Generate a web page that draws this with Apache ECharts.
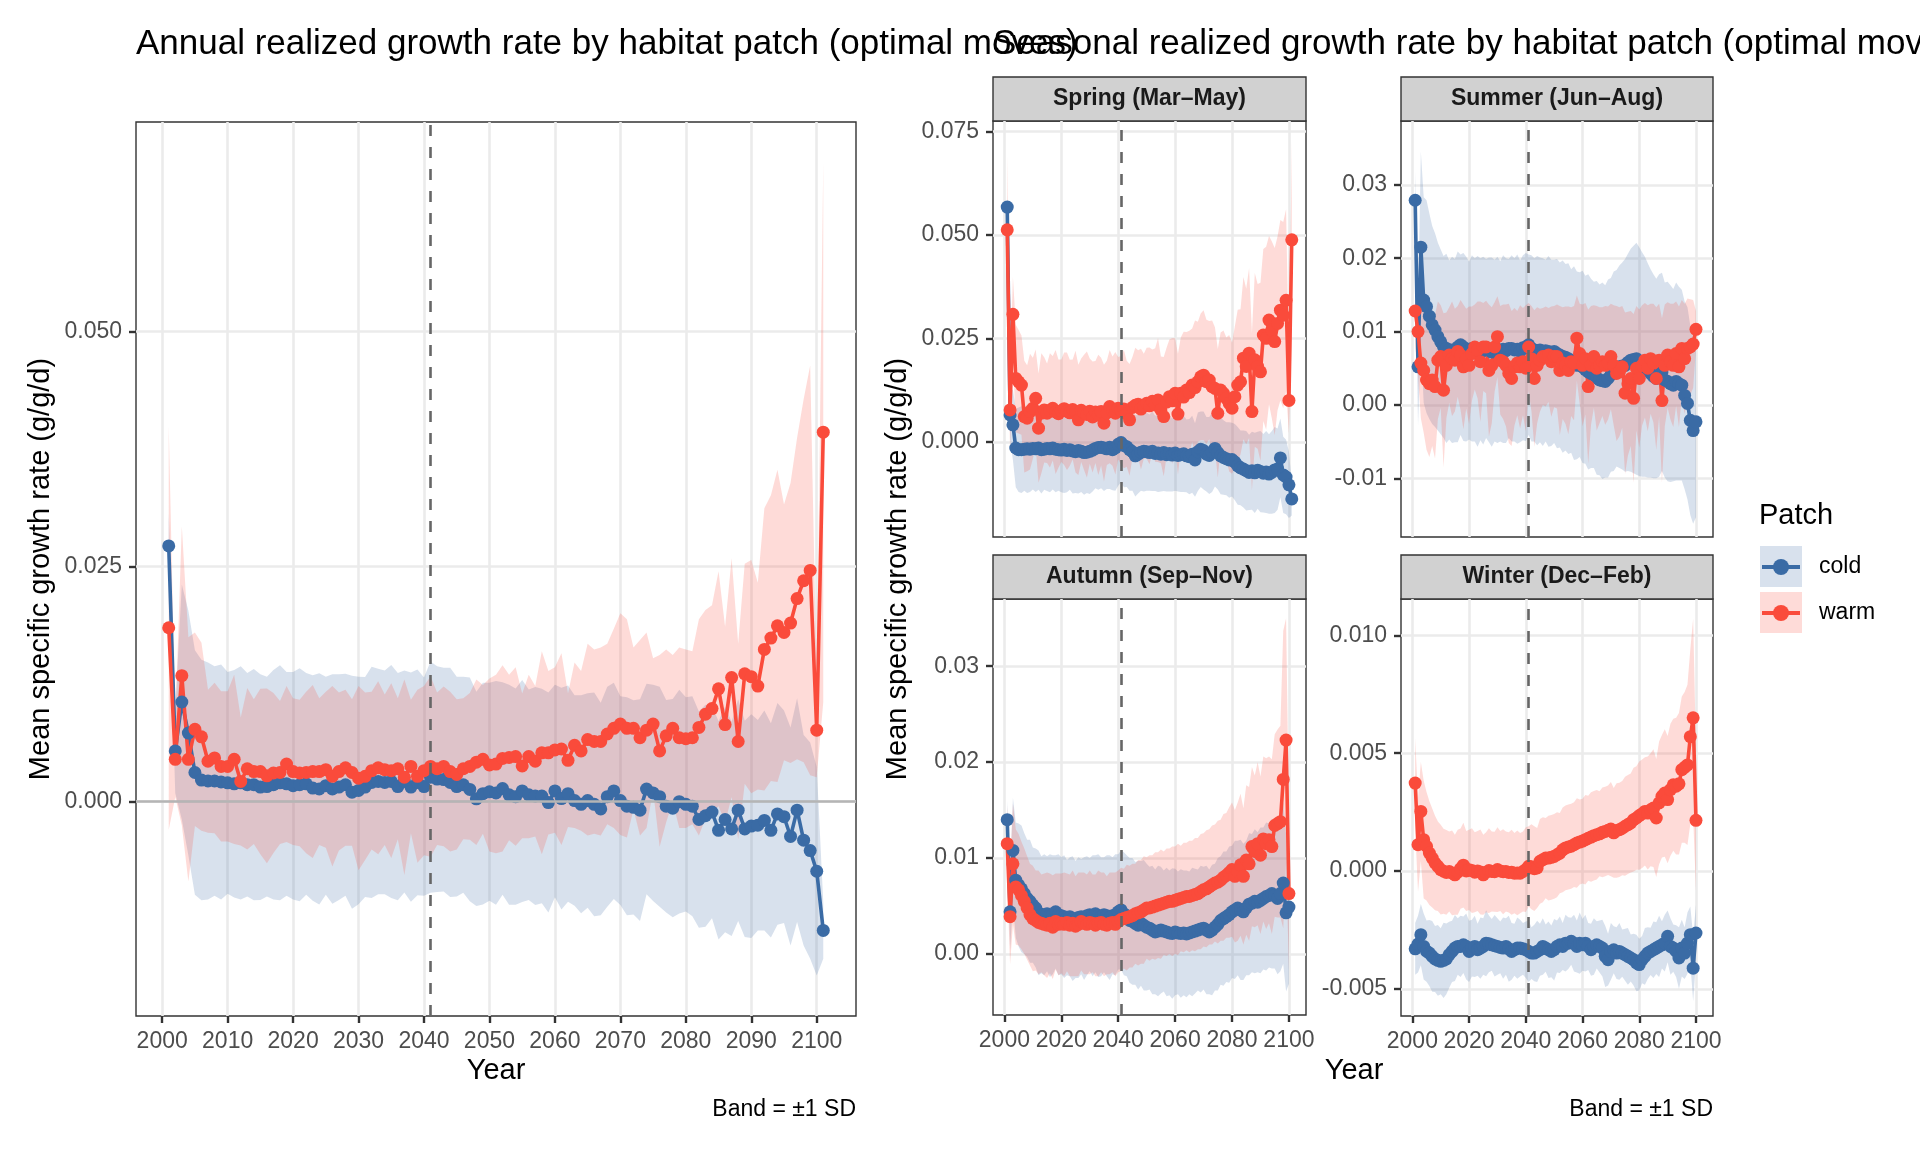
<!DOCTYPE html>
<html>
<head>
<meta charset="utf-8">
<title>Realized growth rate by habitat patch</title>
<script src="https://cdn.jsdelivr.net/npm/echarts@6/dist/echarts.min.js"></script>
<style>
html, body { margin: 0; padding: 0; background: #ffffff; }
#chart { width: 1920px; height: 1152px; }
</style>
</head>
<body>
<div id="chart"></div>
<script>
// ---- data (g/g/d) ----
var annualFirstYear = 2001, annualLastYear = 2101;
var springLastYear = 2101, seasonLastYear = 2100;
var scenarioYear = 2041;   // dashed reference line

var annualXTicks = [2000, 2010, 2020, 2030, 2040, 2050, 2060, 2070, 2080, 2090, 2100];
var seasonXTicks = [2000, 2020, 2040, 2060, 2080, 2100];
var annualYTicks = [0, 0.025, 0.05];
var springYTicks = [0, 0.025, 0.05, 0.075];
var summerYTicks = [-0.01, 0, 0.01, 0.02, 0.03];
var autumnYTicks = [0, 0.01, 0.02, 0.03];
var winterYTicks = [-0.005, 0, 0.005, 0.01];

var annualCold = [0.0272, 0.0054, 0.0106, 0.0073, 0.0031, 0.0023, 0.0022, 0.0022, 0.0021, 0.0020,
 0.0019, 0.0020, 0.0018, 0.0018, 0.00155, 0.0016, 0.0018, 0.0020, 0.0019, 0.0017,
 0.0018, 0.0019, 0.00145, 0.00135, 0.0017, 0.00135, 0.00155, 0.0018, 0.0010, 0.0012,
 0.00155, 0.00205, 0.00215, 0.00205, 0.00215, 0.0016, 0.00215, 0.00155, 0.00205, 0.0016,
 0.0026, 0.0024, 0.00235, 0.00205, 0.0016, 0.0018, 0.0013, 0.0003, 0.00085, 0.00105,
 0.00093, 0.0014, 0.00073, 0.00053, 0.00114, 0.00073, 0.0006, 0.0006, -0.0001, 0.00114,
 0.00033, 0.00085, 0.00012, -0.00028, 0.00012, -0.00028, -0.00077, 0.00053, 0.00114, 0.00012,
 -0.00049, -0.0006, -0.0009, 0.00134, 0.00093, 0.00053, -0.00049, -0.00069, 0.0, -0.00028,
 -0.00049, -0.0019, -0.0015, -0.0011, -0.00305, -0.0019, -0.0029, -0.0009, -0.0029, -0.0026,
 -0.0025, -0.0020, -0.00305, -0.0013, -0.0016, -0.0037, -0.0009, -0.0041, -0.0052, -0.0074,
 -0.0137];
var annualColdSd = [0.0035, 0.0045, 0.0125, 0.0130, 0.0130, 0.0128, 0.0126, 0.0122, 0.0125, 0.0118,
 0.0121, 0.0124, 0.0119, 0.0123, 0.0120, 0.0117, 0.0122, 0.0125, 0.0119, 0.0121,
 0.0124, 0.0118, 0.0120, 0.0123, 0.0116, 0.0122, 0.0120, 0.0118, 0.0124, 0.0121,
 0.0117, 0.0123, 0.0120, 0.0119, 0.0124, 0.0121, 0.0118, 0.0122, 0.0120, 0.0116,
 0.0123, 0.0120, 0.0119, 0.0122, 0.0117, 0.0115, 0.0119, 0.0114, 0.0118, 0.0116,
 0.0119, 0.0113, 0.0117, 0.0115, 0.0118, 0.0112, 0.0116, 0.0114, 0.0117, 0.0113,
 0.0118, 0.0115, 0.0112, 0.0116, 0.0114, 0.0119, 0.0113, 0.0117, 0.0115, 0.0111,
 0.0116, 0.0114, 0.0118, 0.0112, 0.0115, 0.0117, 0.0113, 0.0116, 0.0119, 0.0114,
 0.0117, 0.0115, 0.0118, 0.0113, 0.0116, 0.0120, 0.0114, 0.0118, 0.0115, 0.0119,
 0.0112, 0.0117, 0.0114, 0.0118, 0.0113, 0.0116, 0.0119, 0.0112, 0.0115, 0.0111,
 0.0030];
var annualWarm = [0.0185, 0.0045, 0.0134, 0.0045, 0.0077, 0.0069, 0.0043, 0.00465, 0.00375, 0.00375,
 0.0045, 0.00215, 0.0035, 0.0032, 0.0032, 0.00275, 0.00305, 0.0031, 0.0040, 0.0032,
 0.00305, 0.0031, 0.0032, 0.0032, 0.0034, 0.0027, 0.0032, 0.0036, 0.0031, 0.0025,
 0.0027, 0.0033, 0.0036, 0.0034, 0.0033, 0.0035, 0.0026, 0.00375, 0.0027, 0.0033,
 0.00375, 0.0035, 0.00375, 0.0032, 0.0029, 0.0035, 0.00375, 0.0042, 0.0045, 0.0039,
 0.0040, 0.0046, 0.0047, 0.0048, 0.0038, 0.0048, 0.0043, 0.0052, 0.0052, 0.0055,
 0.0056, 0.0044, 0.0060, 0.0054, 0.0066, 0.0064, 0.0064, 0.0072, 0.0078, 0.00825,
 0.0078, 0.0078, 0.0068, 0.0076, 0.00825, 0.0054, 0.0070, 0.0078, 0.0068, 0.0067,
 0.0068, 0.0079, 0.0093, 0.0099, 0.0120, 0.0082, 0.0132, 0.0064, 0.0136, 0.0133,
 0.0123, 0.0162, 0.0174, 0.0187, 0.0180, 0.0190, 0.0216, 0.0235, 0.0246, 0.0076,
 0.0393];
var annualWarmSd = [0.0215, 0.0040, 0.0159, 0.0130, 0.0103, 0.0100, 0.0076, 0.0080, 0.0080, 0.0080,
 0.0090, 0.0068, 0.0086, 0.0077, 0.0088, 0.0093, 0.0085, 0.0076, 0.0083, 0.0078,
 0.0078, 0.0086, 0.0092, 0.0078, 0.0083, 0.0096, 0.0084, 0.0083, 0.0078, 0.0098,
 0.0089, 0.0084, 0.0092, 0.0080, 0.0093, 0.0075, 0.0104, 0.0071, 0.0092, 0.0090,
 0.0096, 0.0081, 0.0085, 0.0085, 0.0080, 0.0075, 0.0078, 0.0088, 0.0079, 0.0092,
 0.0095, 0.0099, 0.0088, 0.0095, 0.0077, 0.0087, 0.0080, 0.0108, 0.0087, 0.0088,
 0.0102, 0.0071, 0.0088, 0.0085, 0.0102, 0.0098, 0.0100, 0.0096, 0.0106, 0.0118,
 0.0116, 0.0086, 0.0104, 0.0104, 0.0070, 0.0102, 0.0092, 0.0078, 0.0096, 0.0095,
 0.0092, 0.0115, 0.0111, 0.0110, 0.0125, 0.0104, 0.0127, 0.0104, 0.0117, 0.0124,
 0.0110, 0.0150, 0.0152, 0.0166, 0.0136, 0.0149, 0.0171, 0.0193, 0.0218, 0.0050,
 0.0287];

var springCold = [0.0567, 0.0065, 0.0041, -0.0015, -0.0019, -0.0019, -0.0018, -0.0017, -0.0018, -0.0016,
 -0.0017, -0.0015, -0.0019, -0.0018, -0.0016, -0.0017, -0.0015, -0.0018, -0.0019, -0.0020,
 -0.0018, -0.0021, -0.0019, -0.0022, -0.0024, -0.0021, -0.0023, -0.0026, -0.0025, -0.0023,
 -0.0020, -0.0016, -0.0014, -0.0013, -0.0015, -0.0017, -0.0013, -0.0019, -0.0015, -0.0006,
 -0.0002, -0.0009, -0.0012, -0.0019, -0.0024, -0.0034, -0.0030, -0.0025, -0.0023, -0.0024,
 -0.0026, -0.0023, -0.0028, -0.0027, -0.0030, -0.0026, -0.0031, -0.0028, -0.0032, -0.0027,
 -0.0033, -0.0031, -0.0029, -0.0034, -0.0036, -0.0030, -0.0044, -0.0024, -0.0018, -0.0021,
 -0.0030, -0.0033, -0.0025, -0.0016, -0.0026, -0.0034, -0.0038, -0.0041, -0.0044, -0.0043,
 -0.0049, -0.0058, -0.0063, -0.0066, -0.0070, -0.0074, -0.0070, -0.0075, -0.0069, -0.0072,
 -0.0076, -0.0073, -0.0078, -0.0074, -0.0068, -0.0066, -0.0039, -0.0080, -0.0085, -0.0104,
 -0.0138];
var springColdSd = [0.0030, 0.0060, 0.0085, 0.0095, 0.0102, 0.0105, 0.0100, 0.0107, 0.0103, 0.0099,
 0.0104, 0.0101, 0.0106, 0.0098, 0.0103, 0.0105, 0.0100, 0.0104, 0.0099, 0.0102,
 0.0106, 0.0101, 0.0097, 0.0103, 0.0100, 0.0104, 0.0098, 0.0102, 0.0099, 0.0103,
 0.0100, 0.0096, 0.0102, 0.0099, 0.0104, 0.0097, 0.0101, 0.0098, 0.0103, 0.0100,
 0.0096, 0.0101, 0.0097, 0.0099, 0.0094, 0.0098, 0.0095, 0.0093, 0.0097, 0.0094,
 0.0092, 0.0096, 0.0091, 0.0094, 0.0090, 0.0093, 0.0089, 0.0092, 0.0088, 0.0091,
 0.0087, 0.0090, 0.0092, 0.0088, 0.0091, 0.0093, 0.0089, 0.0095, 0.0091, 0.0094,
 0.0090, 0.0093, 0.0096, 0.0092, 0.0089, 0.0093, 0.0090, 0.0088, 0.0091, 0.0089,
 0.0092, 0.0094, 0.0090, 0.0093, 0.0096, 0.0091, 0.0094, 0.0097, 0.0093, 0.0098,
 0.0095, 0.0099, 0.0096, 0.0100, 0.0104, 0.0098, 0.0095, 0.0092, 0.0090, 0.0080,
 0.0040];
var springWarm = [0.0512, 0.0077, 0.0308, 0.0153, 0.0145, 0.0137, 0.0061, 0.0057, 0.0073, 0.0081,
 0.0105, 0.0033, 0.0069, 0.0077, 0.0069, 0.0076, 0.0081, 0.0072, 0.0068, 0.0075,
 0.0080, 0.0074, 0.0070, 0.0078, 0.0073, 0.0053, 0.0076, 0.0071, 0.0066, 0.0074,
 0.0060, 0.0072, 0.0065, 0.0073, 0.0045, 0.0070, 0.0085, 0.0074, 0.0069, 0.0081,
 0.0076, 0.0079, 0.0068, 0.0053, 0.0083, 0.0088, 0.0091, 0.0079, 0.0086, 0.0093,
 0.0087, 0.0098, 0.0089, 0.0101, 0.0077, 0.0061, 0.0096, 0.0109, 0.0099, 0.0117,
 0.0067, 0.0117, 0.0108, 0.0125, 0.0119, 0.0137, 0.0131, 0.0145, 0.0157, 0.0161,
 0.0145, 0.0149, 0.0133, 0.0129, 0.0069, 0.0125, 0.0117, 0.0105, 0.0093, 0.0081,
 0.0109, 0.0137, 0.0145, 0.0202, 0.0182, 0.0214, 0.0073, 0.0198, 0.0182, 0.0169,
 0.0258, 0.0250, 0.0294, 0.0270, 0.0242, 0.0286, 0.0318, 0.0306, 0.0342, 0.0100,
 0.0488];
var springWarmSd = [0.0180, 0.0100, 0.0090, 0.0130, 0.0125, 0.0120, 0.0135, 0.0128, 0.0140, 0.0122,
 0.0118, 0.0132, 0.0145, 0.0127, 0.0120, 0.0138, 0.0126, 0.0150, 0.0131, 0.0124,
 0.0136, 0.0142, 0.0128, 0.0121, 0.0147, 0.0133, 0.0125, 0.0139, 0.0152, 0.0127,
 0.0134, 0.0123, 0.0145, 0.0130, 0.0141, 0.0126, 0.0137, 0.0132, 0.0148, 0.0124,
 0.0131, 0.0143, 0.0128, 0.0135, 0.0122, 0.0139, 0.0130, 0.0146, 0.0127, 0.0134,
 0.0141, 0.0125, 0.0137, 0.0150, 0.0129, 0.0144, 0.0131, 0.0138, 0.0152, 0.0133,
 0.0146, 0.0135, 0.0158, 0.0140, 0.0149, 0.0137, 0.0162, 0.0145, 0.0153, 0.0157,
 0.0150, 0.0143, 0.0160, 0.0148, 0.0155, 0.0139, 0.0152, 0.0147, 0.0165, 0.0158,
 0.0170, 0.0182, 0.0175, 0.0196, 0.0188, 0.0205, 0.0190, 0.0210, 0.0199, 0.0215,
 0.0208, 0.0221, 0.0203, 0.0214, 0.0226, 0.0210, 0.0218, 0.0225, 0.0220, 0.0080,
 0.0240];

var summerCold = [0.0279, 0.0052, 0.0215, 0.0143, 0.0134, 0.0121, 0.0109, 0.0102, 0.0093, 0.0086,
 0.0079, 0.0077, 0.0075, 0.0075, 0.0074, 0.0079, 0.0082, 0.0079, 0.0076, 0.0074,
 0.0077, 0.0075, 0.0073, 0.0076, 0.0074, 0.0077, 0.0075, 0.0072, 0.0074, 0.0075,
 0.0073, 0.0076, 0.0074, 0.0077, 0.0077, 0.0075, 0.0076, 0.0073, 0.0078, 0.0079,
 0.0082, 0.0077, 0.0075, 0.0074, 0.0075, 0.0072, 0.0074, 0.0073, 0.0071, 0.0073,
 0.0070, 0.0068, 0.0066, 0.0065, 0.0063, 0.0060, 0.0057, 0.0054, 0.0055, 0.0052,
 0.0048, 0.0045, 0.0043, 0.0041, 0.0037, 0.0034, 0.0033, 0.0032, 0.0036, 0.0041,
 0.0046, 0.0050, 0.0052, 0.0053, 0.0054, 0.0058, 0.0061, 0.0062, 0.0063, 0.0059,
 0.0055, 0.0052, 0.0047, 0.0043, 0.0039, 0.0036, 0.0040, 0.0045, 0.0034, 0.0032,
 0.0029, 0.0027, 0.0032, 0.0029, 0.0027, 0.0013, 0.0002, -0.0021, -0.0035, -0.0023];
var summerColdSd = [0.0040, 0.0080, 0.0130, 0.0140, 0.0145, 0.0140, 0.0135, 0.0132, 0.0128, 0.0126,
 0.0124, 0.0129, 0.0122, 0.0127, 0.0125, 0.0130, 0.0123, 0.0128, 0.0126, 0.0121,
 0.0127, 0.0125, 0.0130, 0.0124, 0.0128, 0.0122, 0.0126, 0.0129, 0.0124, 0.0127,
 0.0123, 0.0128, 0.0126, 0.0122, 0.0127, 0.0125, 0.0129, 0.0124, 0.0126, 0.0128,
 0.0123, 0.0127, 0.0125, 0.0129, 0.0126, 0.0128, 0.0124, 0.0130, 0.0127, 0.0125,
 0.0129, 0.0126, 0.0131, 0.0127, 0.0130, 0.0125, 0.0132, 0.0128, 0.0126, 0.0131,
 0.0128, 0.0133, 0.0129, 0.0127, 0.0132, 0.0130, 0.0134, 0.0131, 0.0135, 0.0132,
 0.0136, 0.0134, 0.0138, 0.0141, 0.0145, 0.0148, 0.0152, 0.0155, 0.0158, 0.0156,
 0.0153, 0.0150, 0.0146, 0.0142, 0.0139, 0.0136, 0.0138, 0.0135, 0.0133, 0.0136,
 0.0134, 0.0131, 0.0135, 0.0132, 0.0130, 0.0128, 0.0131, 0.0129, 0.0127, 0.0130];
var summerWarm = [0.0128, 0.0100, 0.0057, 0.0047, 0.0034, 0.0029, 0.0034, 0.0025, 0.0061, 0.0066,
 0.0020, 0.0054, 0.0068, 0.0063, 0.0061, 0.0073, 0.0068, 0.0052, 0.0063, 0.0054,
 0.0070, 0.0079, 0.0075, 0.0059, 0.0079, 0.0079, 0.0047, 0.0054, 0.0079, 0.0093,
 0.0061, 0.0059, 0.0054, 0.0043, 0.0036, 0.0052, 0.0057, 0.0052, 0.0059, 0.0050,
 0.0079, 0.0063, 0.0036, 0.0054, 0.0061, 0.0066, 0.0066, 0.0068, 0.0059, 0.0066,
 0.0066, 0.0047, 0.0057, 0.0054, 0.0047, 0.0059, 0.0057, 0.0091, 0.0070, 0.0054,
 0.0063, 0.0025, 0.0054, 0.0066, 0.0050, 0.0054, 0.0059, 0.0054, 0.0057, 0.0066,
 0.0054, 0.0043, 0.0045, 0.0052, 0.0016, 0.0029, 0.0036, 0.0009, 0.0050, 0.0036,
 0.0054, 0.0061, 0.0050, 0.0063, 0.0057, 0.0036, 0.0061, 0.0006, 0.0054, 0.0068,
 0.0059, 0.0054, 0.0070, 0.0052, 0.0077, 0.0063, 0.0077, 0.0079, 0.0083, 0.0103];
var summerWarmSd = [0.0050, 0.0060, 0.0075, 0.0085, 0.0095, 0.0100, 0.0090, 0.0098, 0.0080, 0.0070,
 0.0105, 0.0072, 0.0065, 0.0078, 0.0070, 0.0062, 0.0075, 0.0085, 0.0068, 0.0080,
 0.0064, 0.0058, 0.0066, 0.0082, 0.0060, 0.0063, 0.0090, 0.0079, 0.0061, 0.0055,
 0.0074, 0.0078, 0.0083, 0.0095, 0.0092, 0.0080, 0.0071, 0.0084, 0.0073, 0.0086,
 0.0060, 0.0072, 0.0093, 0.0079, 0.0070, 0.0066, 0.0068, 0.0064, 0.0075, 0.0069,
 0.0071, 0.0088, 0.0076, 0.0080, 0.0087, 0.0074, 0.0078, 0.0058, 0.0068, 0.0083,
 0.0076, 0.0105, 0.0081, 0.0070, 0.0085, 0.0079, 0.0074, 0.0081, 0.0077, 0.0072,
 0.0082, 0.0092, 0.0088, 0.0083, 0.0110, 0.0098, 0.0092, 0.0115, 0.0085, 0.0094,
 0.0082, 0.0078, 0.0086, 0.0075, 0.0081, 0.0097, 0.0077, 0.0112, 0.0083, 0.0072,
 0.0079, 0.0084, 0.0071, 0.0082, 0.0066, 0.0075, 0.0068, 0.0065, 0.0060, 0.0025];

var autumnCold = [0.0140, 0.0044, 0.0108, 0.0077, 0.0072, 0.0068, 0.0063, 0.0058, 0.0055, 0.0051,
 0.0048, 0.0043, 0.0041, 0.0041, 0.0042, 0.0040, 0.0041, 0.0044, 0.0041, 0.0040,
 0.0039, 0.0038, 0.0039, 0.0037, 0.0036, 0.0038, 0.0039, 0.0037, 0.0040, 0.0041,
 0.0040, 0.0042, 0.0040, 0.0039, 0.0041, 0.0040, 0.0038, 0.0040, 0.0041, 0.0044,
 0.0046, 0.0042, 0.0040, 0.0035, 0.0034, 0.0032, 0.0030, 0.0032, 0.0030, 0.0028,
 0.0027, 0.0025, 0.0023, 0.0024, 0.0025, 0.0024, 0.0023, 0.0022, 0.00215, 0.0023,
 0.0022, 0.00215, 0.0022, 0.0021, 0.0022, 0.0023, 0.0024, 0.0025, 0.0026, 0.0027,
 0.0025, 0.0023, 0.0025, 0.0028, 0.0031, 0.0035, 0.0037, 0.0039, 0.0041, 0.0044,
 0.0046, 0.0048, 0.0046, 0.0044, 0.0048, 0.0052, 0.0053, 0.0055, 0.0054, 0.0056,
 0.0058, 0.0060, 0.0061, 0.0063, 0.0061, 0.0058, 0.0063, 0.0074, 0.0043, 0.0049];
var autumnColdSd = [0.0020, 0.0040, 0.0055, 0.0060, 0.0064, 0.0066, 0.0063, 0.0061, 0.0064, 0.0060,
 0.0062, 0.0065, 0.0061, 0.0063, 0.0060, 0.0064, 0.0062, 0.0059, 0.0063, 0.0061,
 0.0064, 0.0060, 0.0062, 0.0065, 0.0061, 0.0063, 0.0060, 0.0064, 0.0062, 0.0059,
 0.0063, 0.0061, 0.0064, 0.0062, 0.0060, 0.0063, 0.0065, 0.0061, 0.0063, 0.0060,
 0.0062, 0.0064, 0.0063, 0.0065, 0.0066, 0.0064, 0.0067, 0.0065, 0.0068, 0.0066,
 0.0064, 0.0067, 0.0065, 0.0068, 0.0066, 0.0063, 0.0067, 0.0065, 0.0068, 0.0066,
 0.0064, 0.0067, 0.0065, 0.0066, 0.0064, 0.0067, 0.0065, 0.0063, 0.0066, 0.0064,
 0.0067, 0.0065, 0.0068, 0.0066, 0.0069, 0.0067, 0.0070, 0.0068, 0.0071, 0.0069,
 0.0072, 0.0070, 0.0073, 0.0071, 0.0070, 0.0074, 0.0072, 0.0075, 0.0073, 0.0076,
 0.0074, 0.0077, 0.0075, 0.0078, 0.0076, 0.0079, 0.0081, 0.0084, 0.0082, 0.0080];
var autumnWarm = [0.0115, 0.0039, 0.0094, 0.0070, 0.0067, 0.0061, 0.0055, 0.0048, 0.0041, 0.0037,
 0.0035, 0.0033, 0.0032, 0.0031, 0.0030, 0.0032, 0.0028, 0.0034, 0.0031, 0.0032,
 0.0031, 0.0033, 0.0030, 0.0032, 0.0029, 0.0031, 0.0034, 0.0032, 0.0031, 0.0033,
 0.0032, 0.0030, 0.0032, 0.0033, 0.0031, 0.0030, 0.0032, 0.0033, 0.0031, 0.0034,
 0.0036, 0.0037, 0.0038, 0.0039, 0.0040, 0.0042, 0.0043, 0.0044, 0.0046, 0.0048,
 0.0048, 0.0049, 0.0050, 0.0051, 0.0052, 0.0053, 0.0054, 0.0055, 0.0055, 0.0056,
 0.0057, 0.0058, 0.0059, 0.0060, 0.0060, 0.0061, 0.0062, 0.0063, 0.0065, 0.0067,
 0.0068, 0.0070, 0.0072, 0.0074, 0.0075, 0.0077, 0.0080, 0.0082, 0.0085, 0.0088,
 0.0081, 0.0086, 0.0093, 0.0081, 0.0098, 0.0094, 0.0112, 0.0107, 0.0115, 0.0103,
 0.0120, 0.0115, 0.0119, 0.0112, 0.0134, 0.0136, 0.0138, 0.0182, 0.0223, 0.0063];
var autumnWarmSd = [0.0040, 0.0050, 0.0063, 0.0060, 0.0058, 0.0056, 0.0055, 0.0054, 0.0053, 0.0055,
 0.0052, 0.0054, 0.0051, 0.0053, 0.0055, 0.0052, 0.0054, 0.0050, 0.0053, 0.0052,
 0.0054, 0.0051, 0.0053, 0.0055, 0.0052, 0.0054, 0.0051, 0.0053, 0.0052, 0.0054,
 0.0051, 0.0053, 0.0055, 0.0052, 0.0054, 0.0051, 0.0053, 0.0052, 0.0054, 0.0053,
 0.0054, 0.0052, 0.0055, 0.0053, 0.0054, 0.0052, 0.0055, 0.0054, 0.0056, 0.0053,
 0.0055, 0.0054, 0.0056, 0.0055, 0.0057, 0.0054, 0.0056, 0.0055, 0.0057, 0.0056,
 0.0058, 0.0055, 0.0057, 0.0056, 0.0058, 0.0057, 0.0059, 0.0058, 0.0060, 0.0059,
 0.0061, 0.0060, 0.0062, 0.0061, 0.0064, 0.0063, 0.0066, 0.0065, 0.0068, 0.0070,
 0.0069, 0.0072, 0.0074, 0.0071, 0.0078, 0.0080, 0.0083, 0.0079, 0.0085, 0.0082,
 0.0086, 0.0089, 0.0087, 0.0091, 0.0095, 0.0098, 0.0100, 0.0155, 0.0127, 0.0080];

var winterCold = [-0.00330, -0.00310, -0.00270, -0.00320, -0.00340, -0.00348, -0.00362, -0.00373, -0.00379, -0.00383,
 -0.00379, -0.00373, -0.00355, -0.00341, -0.00327, -0.00320, -0.00320, -0.00313, -0.00320, -0.00341,
 -0.00327, -0.00320, -0.00334, -0.00327, -0.00320, -0.00306, -0.00309, -0.00313, -0.00317, -0.00320,
 -0.00324, -0.00327, -0.00320, -0.00330, -0.00341, -0.00334, -0.00327, -0.00327, -0.00330, -0.00334,
 -0.00341, -0.00348, -0.00348, -0.00341, -0.00334, -0.00320, -0.00327, -0.00334, -0.00341, -0.00334,
 -0.00320, -0.00313, -0.00320, -0.00306, -0.00306, -0.00298, -0.00306, -0.00320, -0.00306, -0.00313,
 -0.00306, -0.00320, -0.00334, -0.00320, -0.00313, -0.00320, -0.00327, -0.00362, -0.00376, -0.00341,
 -0.00334, -0.00348, -0.00341, -0.00348, -0.00355, -0.00362, -0.00369, -0.00376, -0.00390, -0.00397,
 -0.00376, -0.00362, -0.00348, -0.00341, -0.00334, -0.00327, -0.00320, -0.00313, -0.00306, -0.00277,
 -0.00320, -0.00327, -0.00340, -0.00369, -0.00327, -0.00348, -0.00306, -0.00270, -0.00412, -0.00263];
var winterColdSd = [0.0011, 0.0012, 0.0013, 0.0014, 0.0013, 0.0014, 0.0015, 0.0014, 0.0015, 0.0014,
 0.0016, 0.0015, 0.0014, 0.0013, 0.0014, 0.0012, 0.0013, 0.0012, 0.0014, 0.0013,
 0.0012, 0.0013, 0.0011, 0.0013, 0.0012, 0.0014, 0.0012, 0.0011, 0.0013, 0.0012,
 0.0011, 0.0013, 0.0012, 0.0014, 0.0012, 0.0011, 0.0013, 0.0012, 0.0011, 0.0012,
 0.0013, 0.0011, 0.0012, 0.0013, 0.0011, 0.0012, 0.0010, 0.0012, 0.0011, 0.0013,
 0.0011, 0.0012, 0.0010, 0.0012, 0.0011, 0.0010, 0.0012, 0.0011, 0.0013, 0.0011,
 0.0012, 0.0010, 0.0011, 0.0012, 0.0010, 0.0011, 0.0012, 0.0013, 0.0011, 0.0012,
 0.0010, 0.0011, 0.0012, 0.0010, 0.0011, 0.0012, 0.0010, 0.0011, 0.0012, 0.0011,
 0.0010, 0.0012, 0.0011, 0.0010, 0.0012, 0.0011, 0.0013, 0.0010, 0.0012, 0.0011,
 0.0012, 0.0010, 0.0011, 0.0013, 0.0012, 0.0011, 0.0013, 0.0012, 0.0014, 0.0012];
var winterWarm = [0.00373, 0.00112, 0.00253, 0.00133, 0.00105, 0.00076, 0.00055, 0.00034, 0.00020, 0.00006,
 -0.00001, -0.00006, -0.00002, -0.00008, -0.00016, -0.00005, 0.00010, 0.00025, 0.00000, 0.00005,
 0.00002, -0.00005, 0.00000, -0.00004, -0.00016, -0.00005, 0.00002, -0.00002, -0.00003, 0.00006,
 0.00000, -0.00003, -0.00002, -0.00006, -0.00005, -0.00009, -0.00008, -0.00009, -0.00002, 0.00006,
 0.00020, 0.00018, 0.00010, 0.00013, 0.00041, 0.00048, 0.00055, 0.00055, 0.00058, 0.00062,
 0.00069, 0.00076, 0.00090, 0.00098, 0.00102, 0.00105, 0.00112, 0.00119, 0.00123, 0.00127,
 0.00133, 0.00139, 0.00144, 0.00150, 0.00154, 0.00158, 0.00164, 0.00168, 0.00173, 0.00178,
 0.00162, 0.00172, 0.00175, 0.00182, 0.00190, 0.00197, 0.00204, 0.00218, 0.00225, 0.00235,
 0.00243, 0.00253, 0.00246, 0.00260, 0.00267, 0.00225, 0.00289, 0.00317, 0.00331, 0.00303,
 0.00345, 0.00366, 0.00360, 0.00370, 0.00430, 0.00440, 0.00450, 0.00570, 0.00650, 0.00215];
var winterWarmSd = [0.0019, 0.0020, 0.0021, 0.0025, 0.0023, 0.0022, 0.0021, 0.0020, 0.0019, 0.0019,
 0.0018, 0.0018, 0.0017, 0.0018, 0.0017, 0.0018, 0.0017, 0.0018, 0.0017, 0.0017,
 0.0018, 0.0017, 0.0017, 0.0018, 0.0017, 0.0017, 0.0018, 0.0017, 0.0017, 0.0018,
 0.0017, 0.0018, 0.0017, 0.0017, 0.0018, 0.0017, 0.0018, 0.0017, 0.0017, 0.0018,
 0.0017, 0.0018, 0.0018, 0.0017, 0.0018, 0.0018, 0.0017, 0.0018, 0.0018, 0.0018,
 0.0018, 0.0017, 0.0018, 0.0018, 0.0018, 0.0018, 0.0018, 0.0019, 0.0018, 0.0018,
 0.0019, 0.0018, 0.0019, 0.0019, 0.0019, 0.0018, 0.0019, 0.0019, 0.0019, 0.0020,
 0.0019, 0.0020, 0.0020, 0.0020, 0.0021, 0.0021, 0.0021, 0.0022, 0.0022, 0.0023,
 0.0023, 0.0023, 0.0024, 0.0024, 0.0025, 0.0025, 0.0026, 0.0026, 0.0027, 0.0027,
 0.0028, 0.0028, 0.0029, 0.0030, 0.0031, 0.0032, 0.0034, 0.0037, 0.0042, 0.0030];

// ---- look ----
var FONT = "'Liberation Sans', Arial, Helvetica, sans-serif";
var COLD = '#3A6BA5';
var WARM = '#FA4B3B';
var COLD_BAND = 'rgba(58,107,165,0.2)';
var WARM_BAND = 'rgba(250,75,59,0.2)';

function yearRange(first, last) {
    var out = [];
    for (var y = first; y <= last; y++) out.push(y);
    return out;
}

var panels = [
    { years: yearRange(annualFirstYear, annualLastYear), cold: annualCold, coldSd: annualColdSd, warm: annualWarm, warmSd: annualWarmSd,
      box: { left: 136, top: 122, width: 720, height: 894 }, yMin: -0.0228, yMax: 0.0723, yTicks: annualYTicks, digits: 3,
      xTicks: annualXTicks, showX: true, zero: true },
    { years: yearRange(annualFirstYear, springLastYear), cold: springCold, coldSd: springColdSd, warm: springWarm, warmSd: springWarmSd,
      box: { left: 993, top: 121, width: 313, height: 416 }, yMin: -0.0230, yMax: 0.0775, yTicks: springYTicks, digits: 3,
      xTicks: seasonXTicks, showX: false, strip: 'Spring (Mar\u2013May)' },
    { years: yearRange(annualFirstYear, seasonLastYear), cold: summerCold, coldSd: summerColdSd, warm: summerWarm, warmSd: summerWarmSd,
      box: { left: 1401, top: 121, width: 312, height: 416 }, yMin: -0.0180, yMax: 0.0387, yTicks: summerYTicks, digits: 2,
      xTicks: seasonXTicks, showX: false, strip: 'Summer (Jun\u2013Aug)' },
    { years: yearRange(annualFirstYear, seasonLastYear), cold: autumnCold, coldSd: autumnColdSd, warm: autumnWarm, warmSd: autumnWarmSd,
      box: { left: 993, top: 599, width: 313, height: 416 }, yMin: -0.00635, yMax: 0.0370, yTicks: autumnYTicks, digits: 2,
      xTicks: seasonXTicks, showX: true, strip: 'Autumn (Sep\u2013Nov)' },
    { years: yearRange(annualFirstYear, seasonLastYear), cold: winterCold, coldSd: winterColdSd, warm: winterWarm, warmSd: winterWarmSd,
      box: { left: 1401, top: 599, width: 312, height: 417 }, yMin: -0.00615, yMax: 0.01154, yTicks: winterYTicks, digits: 3,
      xTicks: seasonXTicks, showX: true, strip: 'Winter (Dec\u2013Feb)' }
];

// ribbon mean +/- sd drawn as one polygon through the axis scales
function bandSeries(gi, years, mean, sd, fill) {
    var rows = years.map(function (y, k) { return [y, mean[k] - sd[k], mean[k] + sd[k]]; });
    return {
        type: 'custom', xAxisIndex: gi, yAxisIndex: gi, z: 2, silent: true, clip: true,
        data: rows, encode: { x: 0, y: [1, 2] },
        renderItem: function (params, api) {
            if (params.dataIndex !== 0) return null;
            var pts = [];
            for (var k = 0; k < rows.length; k++) pts.push(api.coord([rows[k][0], rows[k][2]]));
            for (var j = rows.length - 1; j >= 0; j--) pts.push(api.coord([rows[j][0], rows[j][1]]));
            return { type: 'polygon', shape: { points: pts }, style: { fill: fill } };
        }
    };
}

function pairs(years, vals) {
    return years.map(function (y, k) { return [y, vals[k]]; });
}

var grids = [], xAxes = [], yAxes = [], series = [], graphics = [];

panels.forEach(function (p, i) {
    grids.push({
        left: p.box.left, top: p.box.top, width: p.box.width, height: p.box.height,
        show: true, backgroundColor: '#ffffff', borderColor: '#333333', borderWidth: 1.4,
        containLabel: false, outerBoundsMode: 'none'
    });
    xAxes.push({
        gridIndex: i, type: 'value', min: 1996, max: 2106, position: 'bottom',
        axisLine: { show: false, onZero: false },
        axisTick: { show: p.showX, length: 7, lineStyle: { color: '#333333', width: 2.4 }, customValues: p.xTicks },
        axisLabel: { show: p.showX, customValues: p.xTicks, color: '#4D4D4D', fontSize: 23, fontFamily: FONT, margin: 14,
            formatter: function (v) { return String(v); } },
        splitLine: { show: true, lineStyle: { color: '#EBEBEB', width: 2.6 } }
    });
    var digits = p.digits;
    yAxes.push({
        gridIndex: i, type: 'value', min: p.yMin, max: p.yMax, position: 'left',
        axisLine: { show: false, onZero: false },
        axisTick: { show: true, length: 7, lineStyle: { color: '#333333', width: 2.4 }, customValues: p.yTicks },
        axisLabel: { customValues: p.yTicks, color: '#4D4D4D', fontSize: 23, fontFamily: FONT, margin: 14,
            formatter: function (v) { return Number(v).toFixed(digits); } },
        splitLine: { show: true, lineStyle: { color: '#EBEBEB', width: 2.6 } }
    });

    var refLines = [{ xAxis: scenarioYear, lineStyle: { color: '#666666', width: 2.6, type: [11, 11] } }];
    if (p.zero) refLines.unshift({ yAxis: 0, lineStyle: { color: '#B5B5B5', width: 2.7, type: 'solid' } });
    series.push({
        type: 'line', xAxisIndex: i, yAxisIndex: i, data: [], z: 1, silent: true,
        markLine: { silent: true, symbol: 'none', label: { show: false }, animation: false, data: refLines }
    });

    series.push(bandSeries(i, p.years, p.cold, p.coldSd, COLD_BAND));
    series.push(bandSeries(i, p.years, p.warm, p.warmSd, WARM_BAND));
    [[p.cold, COLD], [p.warm, WARM]].forEach(function (s) {
        series.push({ type: 'line', xAxisIndex: i, yAxisIndex: i, z: 3, silent: true, showSymbol: false,
            data: pairs(p.years, s[0]), lineStyle: { color: s[1], width: 3.6 } });
    });
    [[p.cold, COLD], [p.warm, WARM]].forEach(function (s) {
        series.push({ type: 'scatter', xAxisIndex: i, yAxisIndex: i, z: 4, silent: true, symbol: 'circle', symbolSize: 13,
            data: pairs(p.years, s[0]), itemStyle: { color: s[1], opacity: 1 } });
    });

    if (p.strip) {
        graphics.push({ type: 'rect', shape: { x: p.box.left, y: p.box.top - 44, width: p.box.width, height: 44 },
            style: { fill: '#D1D1D1', stroke: '#333333', lineWidth: 1.4 } });
        graphics.push({ type: 'text', x: p.box.left + p.box.width / 2, y: p.box.top - 22,
            style: { text: p.strip, fontSize: 23, fontWeight: 'bold', fontFamily: FONT, fill: '#1A1A1A', align: 'center', verticalAlign: 'middle' } });
    }
});

function label(x, y, text, size, align, rot) {
    return { type: 'text', x: x, y: y, rotation: rot || 0,
        style: { text: text, fontSize: size, fontFamily: FONT, fill: '#000000', align: align, verticalAlign: 'middle' } };
}

graphics.push(label(136, 44, 'Annual realized growth rate by habitat patch (optimal moves)', 35, 'left'));
graphics.push(label(993, 44, 'Seasonal realized growth rate by habitat patch (optimal moves)', 35, 'left'));
graphics.push(label(41, 569, 'Mean specific growth rate (g/g/d)', 29, 'center', Math.PI / 2));
graphics.push(label(898, 569, 'Mean specific growth rate (g/g/d)', 29, 'center', Math.PI / 2));
graphics.push(label(496, 1071, 'Year', 29, 'center'));
graphics.push(label(1354, 1071, 'Year', 29, 'center'));
graphics.push(label(856, 1110, 'Band = \u00b11 SD', 23, 'right'));
graphics.push(label(1713, 1110, 'Band = \u00b11 SD', 23, 'right'));

// legend
graphics.push(label(1759, 516, 'Patch', 29, 'left'));
[['cold', COLD, COLD_BAND, 546], ['warm', WARM, WARM_BAND, 592]].forEach(function (k) {
    var top = k[3], mid = top + 21;
    graphics.push({ type: 'rect', shape: { x: 1760, y: top, width: 42, height: 41 }, style: { fill: k[2] } });
    graphics.push({ type: 'line', shape: { x1: 1762, y1: mid, x2: 1800, y2: mid }, style: { stroke: k[1], lineWidth: 4 } });
    graphics.push({ type: 'circle', shape: { cx: 1781, cy: mid, r: 8 }, style: { fill: k[1] } });
    graphics.push(label(1819, mid, k[0], 23, 'left'));
});

var chart = echarts.init(document.getElementById('chart'), null, { renderer: 'canvas' });
chart.setOption({
    animation: false,
    backgroundColor: '#ffffff',
    grid: grids,
    xAxis: xAxes,
    yAxis: yAxes,
    series: series,
    graphic: { elements: graphics }
});
</script>
</body>
</html>
